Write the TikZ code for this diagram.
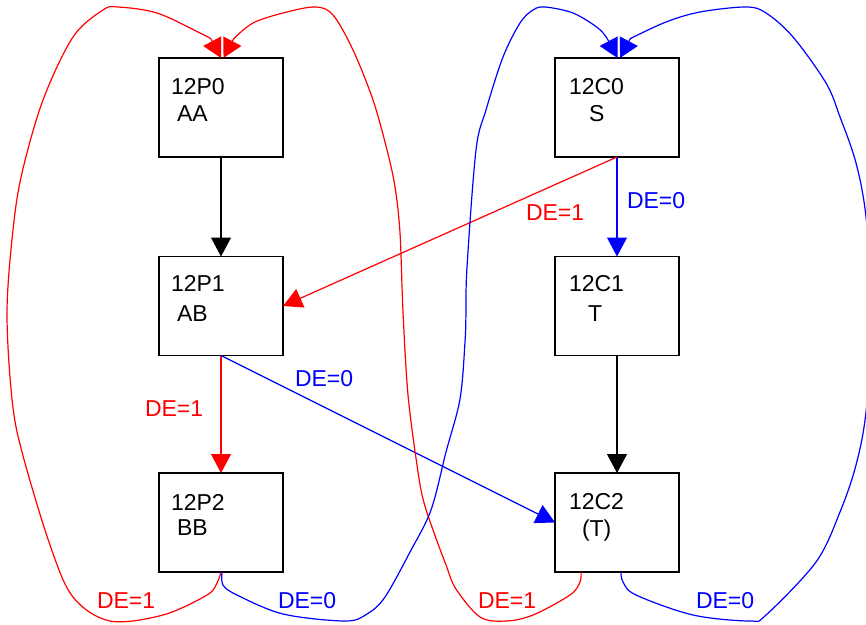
\documentclass[tikz,border=0pt]{standalone}
\usepackage{fontspec}
\setmainfont{Liberation Sans}
\usetikzlibrary{arrows.meta}
\definecolor{myred}{RGB}{255,0,0}
\definecolor{myblue}{RGB}{0,0,255}
\begin{document}
\begin{tikzpicture}[x=1pt,y=-1pt,
  box/.style={draw=black, line width=1.3pt, minimum width=124pt, minimum height=99pt, inner sep=0pt, outer sep=0pt},
  txt/.style={anchor=base west, inner sep=0pt, outer sep=0pt, font=\fontsize{23}{27}\selectfont},
  conn/.style={line width=1.2pt, -{Triangle[length=19pt,width=20pt]}},
  redc/.style={conn, draw=myred},
  bluec/.style={conn, draw=myblue},
  blackc/.style={conn, draw=black},
  rlab/.style={txt, text=myred},
  blab/.style={txt, text=myblue},
]
\useasboundingbox (0,0) rectangle (866,624);

% boxes
\node[box] (p0) at (221,107.5) {};
\node[box] (p1) at (221,306) {};
\node[box] (p2) at (221,522.5) {};
\node[box] (c0) at (617,107.5) {};
\node[box] (c1) at (617,306) {};
\node[box] (c2) at (617,522.5) {};

% box texts
\node[txt] (t0a) at (171,94) {12P0};
\node[txt] (t0b) at (177,121.7) {AA};
\node[txt] (t1a) at (171,291) {12P1};
\node[txt] (t1b) at (177,321) {AB};
\node[txt] (t2a) at (171,510) {12P2};
\node[txt] (t2b) at (177,535.5) {BB};
\node[txt] (s0a) at (569,94) {12C0};
\node[txt] (s0b) at (589,121.7) {S};
\node[txt] (s1a) at (569,291.5) {12C1};
\node[txt] (s1b) at (588,321) {T};
\node[txt] (s2a) at (569,509.5) {12C2};
\node[txt] (s2b) at (582,536.5) {(T)};

% straight connectors
\draw[blackc] (p0.south) -- (p1.north);
\draw[blackc] (c1.south) -- (c2.north);
\draw[bluec] (c0.south) -- (c1.north);
\draw[redc] (c0.south) -- (p1.east);
\draw[redc] (p1.south) -- (p2.north);
\draw[bluec] (p1.south) -- (c2.west);

% loop end points near the top arrows
\coordinate (rl) at ([xshift=-10.3pt,yshift=19.4pt]p0.north);
\coordinate (rr) at ([xshift=12.8pt,yshift=19.4pt]p0.north);
\coordinate (bl) at ([xshift=-9.8pt,yshift=19.4pt]c0.north);
\coordinate (br) at ([xshift=13.3pt,yshift=19.4pt]c0.north);

% red loop: 12P2 -> 12P0 (left side)
\draw[redc] plot[smooth, tension=0.55] coordinates {(p2.south) (217,583) (207,595) (163,615) (110,621) (73,597) (50,545) (22,452) (12,399) (7,312) (13,230) (22,173) (43,100) (73,37) (103,10) (118,7) (157,13) (200,33) (rl)} -- ([xshift=0pt]p0.north);

% red loop: 12C2 -> 12P0 (through the middle)
\draw[redc] plot[smooth, tension=0.55] coordinates {([xshift=-36pt]c2.south) (580,582) (570,595) (533,615) (506,621) (480,617) (456,589) (446,565) (433,530) (423,499) (417,465) (408,395) (403,312) (400,233) (395,187) (387,150) (373,100) (353,50) (333,15) (315,7) (283,13) (253,23) (rr)} -- ([xshift=2.5pt]p0.north);

% blue loop: 12P2 -> 12C0 (through the middle)
\draw[bluec] plot[smooth, tension=0.55] coordinates {([xshift=1pt]p2.south) (223,585) (237,595) (283,614) (345,621) (367,614) (385,597) (410,552) (431,510) (446,452) (460,399) (465,342) (466,312) (467,267) (476,150) (486,110) (503,57) (520,23) (533,10) (545,7) (573,13) (598,28) (bl)} -- ([xshift=0.5pt]c0.north);

% blue loop: 12C2 -> 12C0 (right side)
\draw[bluec] plot[smooth, tension=0.55] coordinates {([xshift=4pt]c2.south) (623,582) (636,595) (693,615) (750,621) (766,615) (816,562) (840,512) (856,465) (866,412) (873,315) (866,217) (856,163) (840,117) (826,83) (793,37) (766,13) (746,7) (700,12) (666,22) (br)} -- ([xshift=3pt]c0.north);

% labels
\node[rlab] (la) at (526,220.7) {DE=1};
\node[blab] (lb) at (627,208) {DE=0};
\node[rlab] (lc) at (145,416) {DE=1};
\node[blab] (ld) at (295,386) {DE=0};
\node[rlab] (le) at (97,608.7) {DE=1};
\node[blab] (lf) at (278,608.7) {DE=0};
\node[rlab] (lg) at (478,608.7) {DE=1};
\node[blab] (lh) at (696,608.7) {DE=0};
\end{tikzpicture}
\end{document}
